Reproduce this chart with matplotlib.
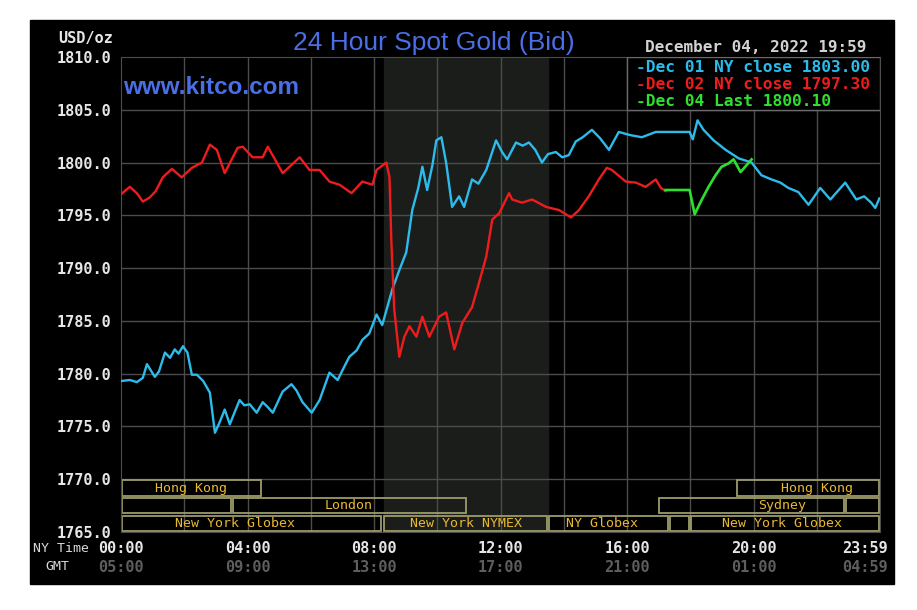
import numpy as np
import matplotlib
matplotlib.use('Agg')
import matplotlib.pyplot as plt
from matplotlib.patches import Rectangle
from matplotlib.transforms import blended_transform_factory

# --- данные (часы по нью-йоркскому времени, цена USD/oz) ---
dec01_t = [0.00, 0.28, 0.50, 0.69, 0.82, 1.07, 1.20, 1.39, 1.55, 1.70, 1.82, 1.96, 2.10, 2.24,
           2.40, 2.60, 2.81, 2.97, 3.12, 3.28, 3.44, 3.60, 3.75, 3.90, 4.07, 4.29, 4.48, 4.65,
           4.80, 5.11, 5.39, 5.55, 5.74, 6.03, 6.28, 6.59, 6.85, 7.05, 7.22, 7.45, 7.63, 7.85,
           8.08, 8.26, 8.58, 8.80, 9.02, 9.21, 9.40, 9.53, 9.68, 9.85, 9.97, 10.13, 10.28,
           10.47, 10.69, 10.85, 11.10, 11.30, 11.55, 11.86, 12.05, 12.21, 12.49, 12.70, 12.90,
           13.10, 13.31, 13.50, 13.75, 13.95, 14.16, 14.38, 14.60, 14.89, 15.15, 15.43, 15.74,
           16.10, 16.47, 16.91, 17.63, 17.98, 18.08, 18.23, 18.42, 18.74, 19.12, 19.53, 19.94,
           20.25, 20.57, 20.85, 21.10, 21.42, 21.74, 22.11, 22.43, 22.90, 23.25, 23.50, 23.72,
           23.85, 23.98]
dec01_p = [1779.3, 1779.4, 1779.2, 1779.6, 1780.9, 1779.7, 1780.2, 1782.0, 1781.5, 1782.3,
           1781.9, 1782.6, 1782.0, 1779.9, 1779.9, 1779.3, 1778.2, 1774.4, 1775.4, 1776.6,
           1775.2, 1776.4, 1777.5, 1777.0, 1777.1, 1776.3, 1777.3, 1776.8, 1776.3, 1778.3,
           1779.0, 1778.4, 1777.3, 1776.3, 1777.5, 1780.1, 1779.4, 1780.6, 1781.6, 1782.2,
           1783.2, 1783.8, 1785.6, 1784.6, 1788.0, 1789.8, 1791.5, 1795.5, 1797.6, 1799.6,
           1797.4, 1799.8, 1802.1, 1802.4, 1800.0, 1795.8, 1796.8, 1795.8, 1798.4, 1798.0,
           1799.3, 1802.1, 1801.0, 1800.3, 1801.9, 1801.6, 1801.9, 1801.2, 1800.0, 1800.8,
           1801.0, 1800.5, 1800.7, 1802.0, 1802.4, 1803.1, 1802.3, 1801.2, 1802.9, 1802.6,
           1802.4, 1802.9, 1802.9, 1802.9, 1802.2, 1804.0, 1803.1, 1802.1, 1801.2, 1800.4,
           1800.0, 1798.8, 1798.4, 1798.1, 1797.6, 1797.2, 1796.0, 1797.6, 1796.5, 1798.1,
           1796.5, 1796.8, 1796.2, 1795.7, 1796.6]

dec02_t = [0.00, 0.28, 0.50, 0.69, 0.91, 1.10, 1.32, 1.61, 1.92, 2.24, 2.56, 2.81, 3.03, 3.28,
           3.50, 3.69, 3.85, 4.16, 4.48, 4.64, 4.85, 5.11, 5.40, 5.65, 5.96, 6.28, 6.59, 6.91,
           7.10, 7.29, 7.63, 7.95, 8.08, 8.39, 8.49, 8.55, 8.64, 8.80, 8.96, 9.12, 9.34, 9.53,
           9.75, 10.06, 10.28, 10.54, 10.79, 11.10, 11.32, 11.55, 11.74, 11.96, 12.27, 12.37,
           12.68, 13.00, 13.44, 13.85, 14.23, 14.48, 14.79, 15.11, 15.36, 15.52, 15.96, 16.28,
           16.59, 16.91, 17.07, 17.22]
dec02_p = [1797.0, 1797.7, 1797.1, 1796.3, 1796.7, 1797.3, 1798.6, 1799.4, 1798.6, 1799.5,
           1800.0, 1801.7, 1801.2, 1799.0, 1800.3, 1801.4, 1801.5, 1800.5, 1800.5, 1801.5,
           1800.4, 1799.0, 1799.8, 1800.5, 1799.3, 1799.3, 1798.2, 1797.9, 1797.5, 1797.1,
           1798.2, 1797.9, 1799.3, 1800.0, 1798.6, 1792.4, 1786.1, 1781.6, 1783.5, 1784.5,
           1783.5, 1785.4, 1783.5, 1785.4, 1785.8, 1782.3, 1784.8, 1786.3, 1788.6, 1791.1,
           1794.6, 1795.2, 1797.1, 1796.5, 1796.2, 1796.5, 1795.8, 1795.5, 1794.8, 1795.5,
           1796.8, 1798.4, 1799.5, 1799.3, 1798.2, 1798.1, 1797.7, 1798.4, 1797.6, 1797.3]

dec04_t = [17.22, 17.98, 18.14, 18.35, 18.58, 18.80, 18.99, 19.20, 19.37, 19.59, 19.94]
dec04_p = [1797.4, 1797.4, 1795.1, 1796.4, 1797.7, 1798.8, 1799.6, 1799.9, 1800.3, 1799.1,
           1800.3]

legend_lines = ['-Dec 01 NY close 1803.00', '-Dec 02 NY close 1797.30', '-Dec 04 Last 1800.10']
legend_colors = ['#2bbcec', '#ee1c1c', '#2ee02e']

# торговые сессии: (ряд, начало, конец, подпись, позиция подписи)
sessions = [
    (0, 0.0, 4.45, 'Hong Kong', 2.2),
    (0, 19.46, 24.0, 'Hong Kong', 22.0),
    (1, 0.0, 3.5, '', 0),
    (1, 3.5, 10.95, 'London', 7.2),
    (1, 16.97, 22.9, 'Sydney', 20.9),
    (1, 22.9, 24.0, '', 0),
    (2, 0.0, 8.26, 'New York Globex', 3.6),
    (2, 8.30, 13.5, 'New York NYMEX', 10.9),
    (2, 13.5, 17.32, 'NY Globex', 15.2),
    (2, 17.32, 18.0, '', 0),
    (2, 18.0, 24.0, 'New York Globex', 20.9),
]

ny_ticks = [0, 4, 8, 12, 16, 20, 23.98]
ny_labels = ['00:00', '04:00', '08:00', '12:00', '16:00', '20:00', '23:59']
gmt_labels = ['05:00', '09:00', '13:00', '17:00', '21:00', '01:00', '04:59']

MONO = 'DejaVu Sans Mono'
SANS = 'Liberation Sans'
grid_c = '#4c4c4c'
box_c = '#9c9c6a'
gold = '#eab832'

fig = plt.figure(figsize=(9.17, 6.10), dpi=100, facecolor='white')
fig.patches.append(Rectangle((30 / 917, 1 - 584 / 610), 864 / 917, 564 / 610,
                             transform=fig.transFigure, color='black', zorder=-10))
ax = fig.add_axes([121 / 917, 1 - 532 / 610, 759 / 917, 475 / 610])
ax.set_zorder(2)
ax.set_facecolor('black')
ax.set_xlim(0, 24)
ax.set_ylim(1765, 1810)

# зона NYMEX
ax.axvspan(8.33, 13.5, color='#1b1d1b', zorder=0)

# сетка
for h in range(2, 24, 2):
    ax.axvline(h, color=grid_c, lw=1, zorder=1)
for v in range(1770, 1810, 5):
    ax.axhline(v, color=grid_c, lw=1, zorder=1)
for s in ax.spines.values():
    s.set_color(grid_c)

ax.plot(dec01_t, dec01_p, color=legend_colors[0], lw=1.7, zorder=3)
ax.plot(dec02_t, dec02_p, color=legend_colors[1], lw=1.7, zorder=3)
ax.plot(dec04_t, dec04_p, color=legend_colors[2], lw=1.9, zorder=4)

# сессии
row_h = 5 / 3
for row, t0, t1, name, tx in sessions:
    y0 = 1770 - (row + 1) * row_h
    ax.add_patch(Rectangle((t0 + 0.03, y0 + 0.12), t1 - t0 - 0.06, row_h - 0.24,
                           fill=False, edgecolor=box_c, lw=1.3, zorder=2))
    if name:
        ax.text(tx, y0 + row_h / 2, name, color=gold, family=MONO, fontsize=9.5,
                ha='center', va='center', zorder=5)

# легенда
ax.add_patch(Rectangle((16.0, 1805.0), 8.0, 5.0, facecolor='black',
                       edgecolor='#6a6a6a', lw=1, zorder=6))
for i, (txt, c) in enumerate(zip(legend_lines, legend_colors)):
    ax.text(16.28, 1809.0 - i * 1.62, txt, color=c, family=MONO, fontsize=11.7,
            fontweight='bold', ha='left', va='center', zorder=7)

# оси
ax.set_yticks(np.arange(1765, 1811, 5))
ax.set_yticklabels([f'{v:.1f}' for v in np.arange(1765, 1811, 5)])
ax.set_xticks([])
ax.tick_params(axis='y', length=0, pad=7, colors='#e6e6e6')
for lab in ax.get_yticklabels():
    lab.set_family(MONO)
    lab.set_fontsize(11)
    lab.set_fontweight('bold')

tr = blended_transform_factory(ax.transData, ax.transAxes)
for t, a, b in zip(ny_ticks, ny_labels, gmt_labels):
    ha = 'right' if t > 23 else 'center'
    xt = 24.25 if t > 23 else t
    ax.text(xt, -0.034, a, transform=tr, color='#e6e6e6', family=MONO, fontsize=11,
            fontweight='bold', ha=ha, va='center')
    ax.text(xt, -0.074, b, transform=tr, color='#5e5e5e', family=MONO, fontsize=11,
            fontweight='bold', ha=ha, va='center')

fig.text(33 / 917, 1 - 549 / 610, 'NY Time', color='#d8d8d8', family=MONO, fontsize=9.5,
         ha='left', va='center')
fig.text(45 / 917, 1 - 567 / 610, 'GMT', color='#d8d8d8', family=MONO, fontsize=9.5,
         ha='left', va='center')
fig.text(113 / 917, 1 - 39 / 610, 'USD/oz', color='#e6e6e6', family=MONO, fontsize=11,
         fontweight='bold', ha='right', va='center')

fig.text(434 / 917, 1 - 43 / 610, '24 Hour Spot Gold (Bid)', color='#4a6ee6', family=SANS,
         fontsize=19, ha='center', va='center')
fig.text(123 / 917, 1 - 88 / 610, 'www.kitco.com', color='#4a6ee6', family=SANS,
         fontsize=17.5, fontweight='bold', ha='left', va='center', zorder=5)
fig.text(866 / 917, 1 - 48 / 610, 'December 04, 2022 19:59', color='#d2d2d2', family=MONO,
         fontsize=11.5, fontweight='bold', ha='right', va='center')

fig.savefig('out.png', dpi=100, facecolor='white')
